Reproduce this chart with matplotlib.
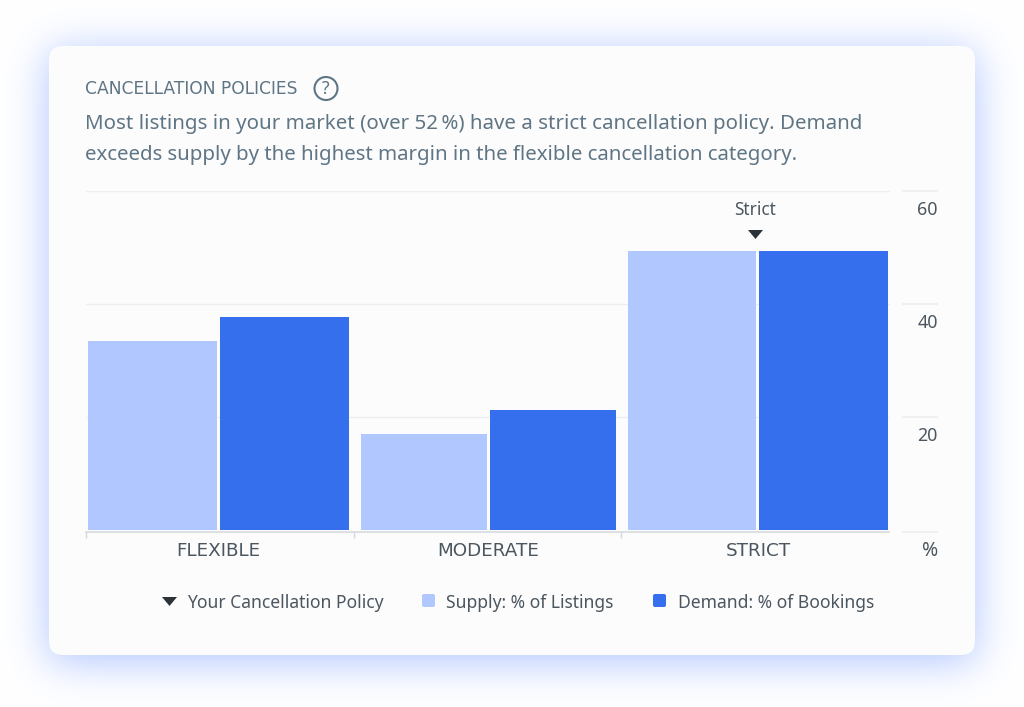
import math
import numpy as np
import matplotlib
matplotlib.use('Agg')
import matplotlib.pyplot as plt
from matplotlib.patches import FancyBboxPatch, Circle

plt.rcParams['font.family'] = ['Noto Sans', 'DejaVu Sans']

# data
categories = ['FLEXIBLE', 'MODERATE', 'STRICT']
supply = [33.5, 17.0, 49.4]
demand = [37.7, 21.2, 49.4]
y_ticks = [20, 40, 60]
your_policy = 'Strict'

BLUE_LIGHT = '#b0c8ff'
BLUE = '#356fee'
DARK = '#2b3338'
TEXT = '#4b565f'
SLATE = '#5f7584'
GRID = '#eceef0'
AXIS = '#d3d8dc'
TRI = [(-1, 0.6), (1, 0.6), (0, -0.6)]  # flat triangle marker

W, H = 1024, 707
fig = plt.figure(figsize=(W / 100, H / 100), dpi=100, facecolor='white')

# background axes in pixel coords, for the card and the header
bg = fig.add_axes([0, 0, 1, 1])
bg.set_xlim(0, W)
bg.set_ylim(H, 0)
bg.axis('off')

# blue glow around the card (blurred box, like a css box-shadow)
erf = np.vectorize(math.erf)
sigma = 21.0
xx = np.arange(W) + 0.5
yy = np.arange(H) + 0.5
gx = 0.5 * (erf((xx - 49) / (sigma * 2**0.5)) - erf((xx - 975) / (sigma * 2**0.5)))
gy = 0.5 * (erf((yy - 52) / (sigma * 2**0.5)) - erf((yy - 661) / (sigma * 2**0.5)))
alpha = np.outer(gy, gx)
glow = np.ones((H, W, 3))
for c, v in enumerate([0.68, 0.77, 1.0]):
    glow[:, :, c] = 1 - alpha * (1 - v)
bg.imshow(glow, extent=(0, W, H, 0), aspect='auto', zorder=0)
bg.set_xlim(0, W)
bg.set_ylim(H, 0)

card = FancyBboxPatch((63, 60), 898, 581, boxstyle='round,pad=14,rounding_size=14',
                      fc='#fcfcfd', ec='none', zorder=1)
bg.add_patch(card)

# header
bg.text(85, 88.5, 'CANCELLATION POLICIES', fontsize=12.3, color=SLATE, va='center', zorder=3,
        family='DejaVu Sans')
bg.add_patch(Circle((326, 88.5), 11.5, fc='none', ec=SLATE, lw=1.5, zorder=3))
bg.text(326, 89, '?', fontsize=12.5, color=SLATE, ha='center', va='center', weight='bold', zorder=3)
bg.text(85, 124, 'Most listings in your market (over 52\u2009%) have a strict cancellation policy. Demand',
        fontsize=14.75, color=SLATE, va='center', zorder=3)
bg.text(85, 155, 'exceeds supply by the highest margin in the flexible cancellation category.',
        fontsize=14.7, color=SLATE, va='center', zorder=3)

# chart axes: one x unit is one category, zero sits at y=530px
cat_px = 267.67
ax = fig.add_axes([86 / W, 1 - 530 / H, (938 - 86) / W, (530 - 191) / H])
ax.patch.set_alpha(0)
ax.set_xlim(0, (938 - 86) / cat_px)
ax.set_ylim(0, 60)
ax.set_zorder(2)
bg.set_zorder(1)

centers = np.array([0.495, 1.5035, 2.5105])
bar_w = np.array([0.481, 0.470, 0.481])
gap = 0.0056

ax.hlines(y_ticks, 0, 3, color=GRID, lw=1, zorder=1)
ax.hlines(y_ticks + [-0.354], 3.049, 3.183, color=GRID, lw=1.2, zorder=1, clip_on=False)
ax.bar(centers - bar_w / 2 - gap, supply, width=bar_w, color=BLUE_LIGHT, zorder=2)
ax.bar(centers + bar_w / 2 + gap, demand, width=bar_w, color=BLUE, zorder=2)

for v in y_ticks:
    ax.annotate(str(v), (3.183, v), xytext=(0, -19), textcoords='offset pixels',
                ha='right', va='center', fontsize=12.8, color=TEXT)
ax.annotate('%', (3.183, 0), xytext=(0, -21), textcoords='offset pixels',
            ha='right', va='center', fontsize=14, color=TEXT, annotation_clip=False)

# marker over the user's category
i_pol = [c.lower() for c in categories].index(your_policy.lower())
top = max(supply[i_pol], demand[i_pol])
mark_x = centers[i_pol] - 0.011
ax.plot([mark_x], [top + 3.0], marker=TRI, ms=10.8, color=DARK, mec='none', zorder=3)
ax.annotate(your_policy, (mark_x, top + 3.0), xytext=(0, 24), textcoords='offset pixels',
            ha='center', va='center', fontsize=12.4, color=TEXT)

# axis line and ticks
for s in ['top', 'left', 'right']:
    ax.spines[s].set_visible(False)
ax.spines['bottom'].set_position(('outward', 1.44))
ax.spines['bottom'].set_bounds(0, 3)
ax.spines['bottom'].set_color(AXIS)
ax.spines['bottom'].set_linewidth(1.1)
ax.set_yticks([])
ax.set_xticks([0, 1, 2])
ax.set_xticklabels([])
ax.tick_params(axis='x', which='major', length=4.5, width=1, color=AXIS)
ax.set_xticks(centers, minor=True)
ax.set_xticklabels(categories, minor=True, fontsize=13.2, color=TEXT, family='DejaVu Sans')
ax.tick_params(axis='x', which='minor', length=0, pad=7.5)

# legend
bg.plot([169], [600.5], marker=TRI, ms=10.8, color=DARK, mec='none', zorder=3)
bg.text(187, 603, 'Your Cancellation Policy', fontsize=12.6, color=TEXT, va='center', zorder=3)
for x0, col, lab in [(422, BLUE_LIGHT, 'Supply: % of Listings'), (653, BLUE, 'Demand: % of Bookings')]:
    bg.add_patch(FancyBboxPatch((x0 + 2, 596), 9, 9, boxstyle='round,pad=2,rounding_size=2',
                                fc=col, ec='none', zorder=3))
    bg.text(x0 + 24.5, 603, lab, fontsize=12.6, color=TEXT, va='center', zorder=3)

fig.savefig('out.png', dpi=100)
